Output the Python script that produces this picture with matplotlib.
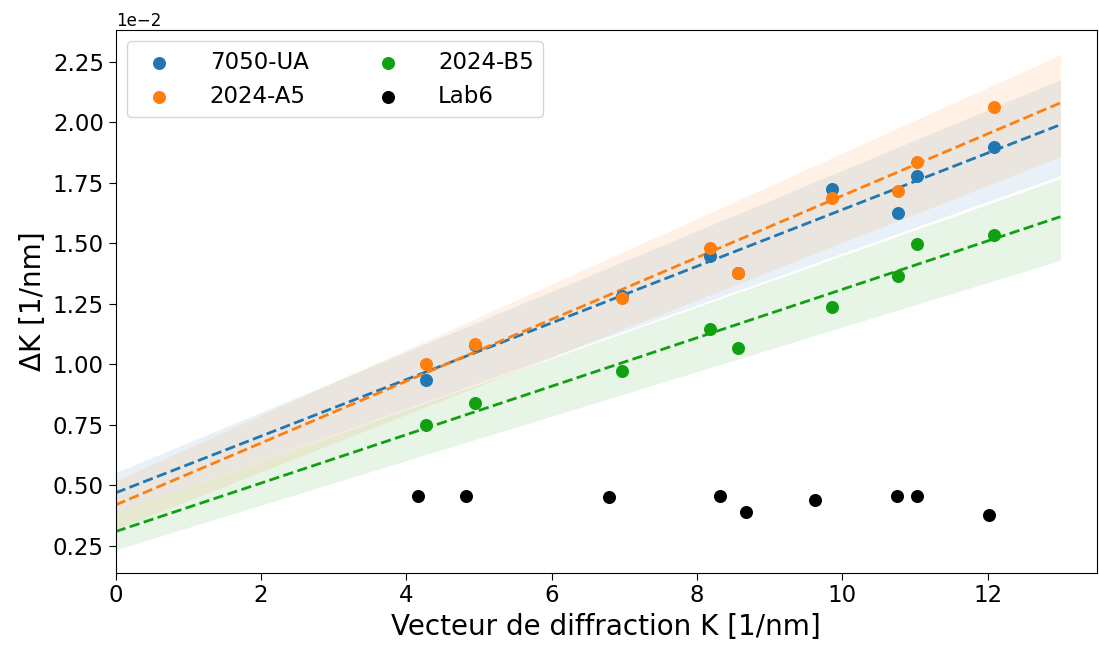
import matplotlib
matplotlib.use("Agg")
import matplotlib.pyplot as plt
import numpy as np
from matplotlib.ticker import ScalarFormatter

# Data (values in 1/nm)
K_samples = [4.27, 4.94, 6.97, 8.18, 8.56, 9.86, 10.76, 11.03, 12.09]
dK_7050_UA = [0.00936, 0.01080, 0.01283, 0.01448, 0.01378, 0.01725, 0.01627, 0.01779, 0.01897]
dK_2024_A5 = [0.01001, 0.01083, 0.01275, 0.01480, 0.01378, 0.01689, 0.01717, 0.01836, 0.02063]
dK_2024_B5 = [0.00750, 0.00842, 0.00973, 0.01145, 0.01067, 0.01236, 0.01367, 0.01497, 0.01535]
K_lab6 = [4.16, 4.82, 6.79, 8.32, 8.67, 9.62, 10.75, 11.02, 12.02]
dK_lab6 = [0.00458, 0.00458, 0.00451, 0.00458, 0.00389, 0.00439, 0.00457, 0.00457, 0.00378]

# Fit lines and bands, evaluated at the ends of the fit range
fit_K = [0.0, 13.0]
fit_7050_UA = [0.0047, 0.0199]
band_7050_UA_low = [0.0039, 0.0178]
band_7050_UA_high = [0.00553, 0.02176]
fit_2024_A5 = [0.0042, 0.0208]
band_2024_A5_low = [0.0032, 0.01858]
band_2024_A5_high = [0.0052, 0.02279]
fit_2024_B5 = [0.0031, 0.0161]
band_2024_B5_low = [0.00235, 0.0143]
band_2024_B5_high = [0.0039, 0.01767]

labels = ["7050-UA", "2024-A5", "2024-B5", "Lab6"]
colors = ["#1f77b4", "#ff7f0e", "#10a010"]

fig = plt.figure(figsize=(10.99, 6.46), dpi=100)
ax = fig.add_axes([0.1053, 0.1135, 0.8927, 0.8401])

fits = [fit_7050_UA, fit_2024_A5, fit_2024_B5]
lows = [band_7050_UA_low, band_2024_A5_low, band_2024_B5_low]
highs = [band_7050_UA_high, band_2024_A5_high, band_2024_B5_high]
for f, lo, hi, c in zip(fits, lows, highs, colors):
    ax.fill_between(fit_K, lo, hi, color=c, alpha=0.1, linewidth=0)
    ax.plot(fit_K, f, "--", color=c, linewidth=2)

series = [dK_7050_UA, dK_2024_A5, dK_2024_B5]
for ys, c, lab in zip(series, colors, labels[:3]):
    ax.scatter(K_samples, ys, s=88, color=c, label=lab, zorder=3, linewidths=0)
ax.scatter(K_lab6, dK_lab6, s=88, color="black", label=labels[3], zorder=3, linewidths=0)

ax.set_xlim(0, 13.5)
ax.set_ylim(0.0014, 0.02381)
ax.set_xticks([0, 2, 4, 6, 8, 10, 12])
ax.set_yticks([0.0025, 0.0050, 0.0075, 0.0100, 0.0125, 0.0150, 0.0175, 0.0200, 0.0225])
fmt = ScalarFormatter(useMathText=False)
fmt.set_powerlimits((-2, -2))
ax.yaxis.set_major_formatter(fmt)
ax.yaxis.get_offset_text().set_fontsize(12)
ax.tick_params(labelsize=16.5, length=5)

ax.set_xlabel("Vecteur de diffraction K [1/nm]", fontsize=20)
ax.set_ylabel("ΔK [1/nm]", fontsize=20)

ax.legend(loc="upper left", ncol=2, fontsize=16.5, framealpha=0.8,
          handletextpad=1.2, columnspacing=2.45, borderpad=0.4, scatterpoints=1)

fig.savefig("out.png", dpi=100)
